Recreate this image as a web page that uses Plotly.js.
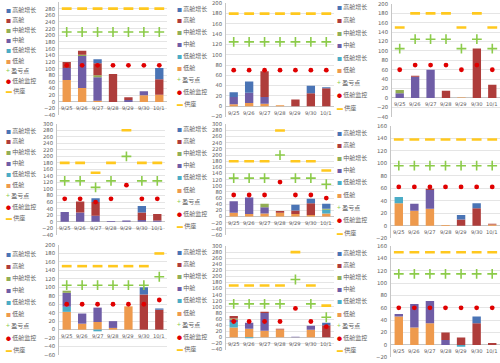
<!DOCTYPE html>
<html><head><meta charset="utf-8">
<script src="https://cdn.plot.ly/plotly-3.0.1.min.js"></script>
<style>html,body{margin:0;padding:0;background:#fff}#c{width:500px;height:363px}</style>
</head><body><div id="c"></div><script>
// ---------- data ----------
const categories = ['9/25','9/26','9/27','9/28','9/29','9/30','10/1'];
const legendNames = ['高舱增长','高舱','中舱增长','中舱','低舱增长','低舱','盈亏点','低舱监控','供座'];
const yRanges = [[-40,300],[-20,200],[-40,200],[-40,300],[-60,300],[-20,160],[-60,200],[-40,300],[-20,160]];

// one row per panel (row-major: top-left ... bottom-right)
const lowCabin = [
  [66,42,4,0,0,20,22],
  [4,6,5,2,0,0,0],
  [0,0,0,0,1,0,0],
  [0,0,0,0,0,0,0],
  [12,8,10,12,8,5,10],
  [36,24,27,1,0,0,2],
  [42,14,18,4,55,0,0],
  [32,28,22,26,0,25,0],
  [46,28,35,0,0,0,0]
];
const lowGrowth = [
  [0,0,0,0,0,0,0],
  [0,0,0,0,0,0,0],
  [0,0,0,0,0,0,0],
  [0,0,0,0,0,0,0],
  [0,0,0,0,0,0,12],
  [10,0,0,0,0,0,0],
  [12,0,-4,0,0,0,0],
  [18,-3,0,0,0,0,0],
  [0,0,0,0,-3,0,0]
];
const midCabin = [
  [36,96,70,0,6,12,0],
  [14,20,13,0,0,0,0],
  [10,45,60,0,0,0,0],
  [30,28,18,2,4,5,4],
  [38,54,20,0,0,0,0],
  [0,11,30,0,0,0,0],
  [33,24,34,16,0,0,0],
  [8,20,58,0,2,13,0],
  [4,38,36,8,0,0,0]
];
const midGrowth = [
  [0,4,6,0,0,0,0],
  [0,0,0,0,0,0,0],
  [7,0,0,0,0,0,0],
  [0,0,0,0,0,0,0],
  [0,0,12,0,0,0,3],
  [0,0,0,0,0,0,0],
  [5,0,0,0,0,0,0],
  [4,0,0,0,0,0,0],
  [0,0,0,0,0,0,0]
];
const highCabin = [
  [18,12,36,84,8,0,46],
  [0,0,50,0,13,25,35],
  [0,2,0,15,0,105,28],
  [0,34,42,0,0,23,20],
  [0,0,0,6,12,38,0],
  [0,0,2,0,10,28,1],
  [0,0,0,0,0,83,47],
  [8,0,4,2,0,0,40],
  [0,0,0,12,12,35,3]
];
const highGrowth = [
  [0,0,12,0,0,0,34],
  [9,22,0,0,0,15,2],
  [0,0,0,0,0,0,0],
  [0,0,12,0,0,20,0],
  [0,0,0,0,18,15,17],
  [0,0,0,0,7,8,0],
  [0,0,0,0,0,17,3],
  [0,0,0,0,0,0,8],
  [0,0,0,0,0,11,0]
];
const breakEven = [
  [210,210,210,210,210,210,210],
  [125,125,125,125,125,125,125],
  [105,125,125,125,105,125,105],
  [125,125,105,125,200,125,125],
  [125,125,125,200,125,125,105],
  [96,96,96,96,96,96,96],
  [105,105,105,105,105,105,125],
  [110,110,110,110,190,110,66],
  [115,115,115,115,115,115,115]
];
const lowMonitor = [
  [110,110,110,110,110,110,110],
  [70,70,70,70,70,70,70],
  [60,70,70,70,60,70,60],
  [70,70,60,70,112,70,70],
  [70,70,70,112,70,70,60],
  [62,62,62,62,62,62,62],
  [60,60,60,60,60,60,70],
  [52,52,52,52,95,52,35],
  [60,60,60,60,60,60,60]
];
const seatSupply = [
  [280,280,280,280,280,280,280],
  [180,180,180,180,180,180,180],
  [150,180,180,180,150,180,150],
  [180,180,150,180,280,180,180],
  [180,180,180,280,180,180,150],
  [138,138,138,138,138,138,138],
  [150,150,150,150,150,150,180],
  [170,170,170,170,280,170,104],
  [150,150,150,150,150,150,150]
];

// ---------- styling / layout ----------
const W = 500, H = 363;
const plotBoxes = [ // pixel boxes [x0,x1,y0,y1]
  [59,167,2,115.3],[226,334,3.3,116.5],[392,500,4,116.7],
  [57,165,123.7,234.8],[226,334,124.3,235],[391,500,125.7,238.2],
  [59,167,245,355],[226,334,246,349.5],[391,500,246,357.3]
];
const legendPos = [ // [x, firstY, step]
  [4,9,10.2],[175,8,11.9],[335,7,12.5],
  [4,130,10.9],[175,128,12.2],[335,132,12.5],
  [4,253,12],[175,251,12.2],[335,252,12.2]
];
const barColors = {low:'#EE9A4D', lowG:'#4BACC6', mid:'#6F5DA6', midG:'#93AE55', high:'#AE3D3B', highG:'#4A74B5'};
const greenC = '#8CCB4A', redC = '#E00000', yellowC = '#FFC81E';
const txtC = '#606060';
const cjk = '"Noto Sans CJK SC", "Noto Sans", sans-serif';

const traces = [];
const layout = {
  width: W, height: H, margin:{l:0,r:0,t:0,b:0},
  paper_bgcolor:'#fff', plot_bgcolor:'#fff',
  showlegend:false, barmode:'relative', bargap:0.46,
  font:{family:cjk, size:6, color:txtC},
  annotations:[]
};

for (let k = 0; k < 9; k++) {
  const n = k + 1;
  const xa = n === 1 ? 'x' : 'x' + n, ya = n === 1 ? 'y' : 'y' + n;
  const b = plotBoxes[k];
  layout[n === 1 ? 'xaxis' : 'xaxis' + n] = {
    domain:[b[0]/W, b[1]/W], anchor: ya, type:'category', range:[-0.5,6.5],
    showticklabels:false, showgrid:false, zeroline:false, showline:false, fixedrange:true
  };
  layout[n === 1 ? 'yaxis' : 'yaxis' + n] = {
    domain:[1 - b[3]/H, 1 - b[2]/H], anchor: xa, range: yRanges[k], tick0:0, dtick:20,
    showgrid:true, gridcolor:'#DADADA', gridwidth:0.7,
    zeroline:true, zerolinecolor:'#B8B8B8', zerolinewidth:0.8,
    showline:true, linecolor:'#B8B8B8', linewidth:0.8,
    ticks:'', ticklabelstandoff:2, automargin:false,
    tickfont:{size:5.3, color:txtC, family:'"DejaVu Sans", sans-serif'}, fixedrange:true
  };
  const bars = [
    [lowCabin, barColors.low, legendNames[5]],
    [lowGrowth, barColors.lowG, legendNames[4]],
    [midCabin, barColors.mid, legendNames[3]],
    [midGrowth, barColors.midG, legendNames[2]],
    [highCabin, barColors.high, legendNames[1]],
    [highGrowth, barColors.highG, legendNames[0]]
  ];
  bars.forEach(([arr, col, nm]) => {
    traces.push({type:'bar', x:categories, y:arr[k], name:nm, xaxis:xa, yaxis:ya,
      marker:{color:col, line:{width:0}}, hoverinfo:'skip'});
  });
  traces.push({type:'scatter', mode:'markers', x:categories, y:breakEven[k], name:legendNames[6],
    xaxis:xa, yaxis:ya, marker:{symbol:'cross-thin', size:7, line:{color:greenC, width:1.6}}, hoverinfo:'skip'});
  traces.push({type:'scatter', mode:'markers', x:categories, y:lowMonitor[k], name:legendNames[7],
    xaxis:xa, yaxis:ya, marker:{symbol:'circle', size:4.8, color:redC}, hoverinfo:'skip'});
  traces.push({type:'scatter', mode:'markers', x:categories, y:seatSupply[k], name:legendNames[8],
    xaxis:xa, yaxis:ya, marker:{symbol:'line-ew', size:7, line:{color:yellowC, width:2.6}}, hoverinfo:'skip'});

  // category labels just below the zero line
  categories.forEach(c => {
    layout.annotations.push({xref:xa, yref:ya, x:c, y:0, yanchor:'top', yshift:-1.5,
      text:c, showarrow:false, font:{size:5.2, color:txtC, family:'"DejaVu Sans", sans-serif'}});
  });

  // legend entries
  const lp = legendPos[k];
  const syms = [
    ['■', barColors.highG, 5],['■', barColors.high, 5],['■', barColors.midG, 5],['■', barColors.mid, 5],
    ['■', barColors.lowG, 5],['■', barColors.low, 5],['+', greenC, 7],['●', redC, 5],['▬', yellowC, 6]
  ];
  legendNames.forEach((nm, i) => {
    layout.annotations.push({xref:'paper', yref:'paper', x:lp[0]/W, y:1 - (lp[1] + i*lp[2])/H,
      xanchor:'left', yanchor:'middle', showarrow:false,
      text:'<span style="color:' + syms[i][1] + ';font-size:' + syms[i][2] + 'px">' + syms[i][0] + '</span> ' + nm,
      font:{size:6, color:txtC, family:cjk}});
  });
}

Plotly.newPlot('c', traces, layout, {staticPlot:true, displayModeBar:false});
</script></body></html>
